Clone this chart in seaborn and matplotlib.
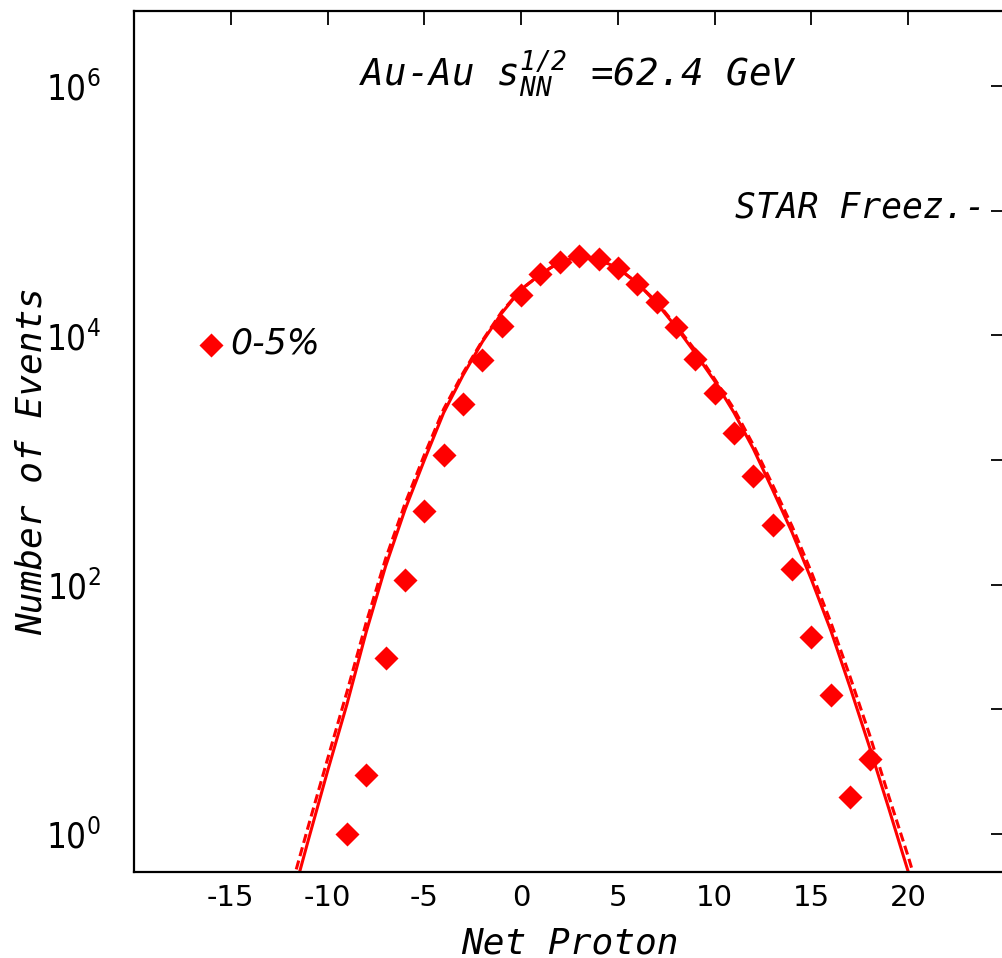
import matplotlib
matplotlib.use("Agg")
import matplotlib.pyplot as plt
import numpy as np
import pandas as pd
import seaborn as sns
from matplotlib.font_manager import FontProperties, fontManager
from matplotlib.ticker import FixedLocator, NullLocator

# ---------------- data ----------------
net_proton = [-9, -8, -7, -6, -5, -4, -3, -2, -1, 0, 1, 2, 3, 4, 5, 6, 7, 8,
              9, 10, 11, 12, 13, 14, 15, 16, 17, 18]
events = [1.0, 3.0, 26, 110, 390, 1100, 2800, 6300, 12000, 21000, 31000, 39000,
          43000, 41000, 35000, 26000, 18500, 11700, 6500, 3450, 1650, 740, 300,
          135, 38, 13, 2.0, 4.0]

model_x = [-12, -11, -10, -9, -8, -7, -6, -5, -4, -3, -2, -1, 0, 1, 2, 3, 4, 5,
           6, 7, 8, 9, 10, 11, 12, 13, 14, 15, 16, 17, 18, 19, 20, 21]
model_solid = [0.24, 0.89, 3.2, 11, 42, 141, 400, 1000, 2400, 4800, 8900, 15100,
               23400, 30900, 38900, 42700, 40700, 34700, 26300, 18200, 11700,
               7200, 4300, 2400, 1230, 575, 263, 110, 43, 15, 5.0, 1.6, 0.50, 0.15]
model_dashed = [0.32, 1.15, 4.0, 13.8, 50, 162, 447, 1100, 2570, 5000, 9100, 15500,
                23400, 30900, 38900, 42700, 40700, 34700, 26300, 18600, 12000,
                7600, 4470, 2570, 1320, 630, 295, 126, 50, 18.2, 6.3, 2.0, 0.66, 0.20]

x_ticks = [-15, -10, -5, 0, 5, 10, 15, 20]
x_tick_labels = ["-15", "-10", "-5", "0", "5", "10", "15", "20"]
y_ticks = [1e0, 1e1, 1e2, 1e3, 1e4, 1e5, 1e6]
y_tick_labels = [r"$\mathdefault{10^{0}}$", "", r"$\mathdefault{10^{2}}$", "",
                 r"$\mathdefault{10^{4}}$", "", r"$\mathdefault{10^{6}}$"]

series_label = "0-5%"
title_text = r"Au-Au s$_{\mathdefault{NN}}^{\mathdefault{1/2}}$ =62.4 GeV"
model_text = "STAR Freez.-"

# ---------------- style ----------------
sns.set_theme(style="white")
plt.rcParams["axes.unicode_minus"] = False
plt.rcParams["font.family"] = ["DejaVu Sans"]
plt.rcParams["text.color"] = "black"

names = {f.name for f in fontManager.ttflist}
if "Liberation Sans Narrow" in names:
    yfp = FontProperties(family="Liberation Sans Narrow", size=27)
elif any(f.name == "DejaVu Sans" and f.stretch == "condensed" for f in fontManager.ttflist):
    yfp = FontProperties(family="DejaVu Sans", stretch="condensed", size=25)
else:
    yfp = FontProperties(family="DejaVu Sans", size=24)

W, H = 1002, 958
fig = plt.figure(figsize=(W / 100, H / 100), dpi=100)
ax_left, ax_right, ax_top, ax_bot = 134, 1005, 11, 871.7
ax = fig.add_axes([ax_left / W, (H - ax_bot) / H, (ax_right - ax_left) / W,
                   (ax_bot - ax_top) / H])
axw = ax_right - ax_left
axh = ax_bot - ax_top

red = "#ff0000"
df_model = pd.DataFrame({"x": model_x, "solid": model_solid, "dashed": model_dashed})
df_pts = pd.DataFrame({"x": net_proton, "y": events})

sns.lineplot(data=df_model, x="x", y="solid", color=red, lw=2.2, ax=ax,
             estimator=None, legend=False, zorder=2)
sns.lineplot(data=df_model, x="x", y="dashed", color=red, lw=2.2, ax=ax,
             estimator=None, legend=False, dashes=(3, 1.5), zorder=2)
sns.scatterplot(data=df_pts, x="x", y="y", marker="D", s=150, color=red,
                linewidth=0, ax=ax, zorder=3, legend=False)
pts_handle = ax.collections[-1]

ax.set_yscale("log")
ax.set_xlim(-20, 25)
ax.set_ylim(0.5, 4e6)

ax.set_xticks(x_ticks)
ax.set_xticklabels(x_tick_labels, fontsize=21, fontfamily="DejaVu Sans")
ax.yaxis.set_major_locator(FixedLocator(y_ticks))
ax.yaxis.set_minor_locator(NullLocator())
ax.xaxis.set_minor_locator(NullLocator())
ax.set_yticklabels(y_tick_labels, fontproperties=yfp)

ax.tick_params(axis="both", which="major", direction="in", length=10, width=1.3,
               color="black", top=True, right=True, labelcolor="black")
ax.tick_params(axis="x", pad=9)
ax.tick_params(axis="y", pad=24)

for s in ax.spines.values():
    s.set_visible(True)
    s.set_linewidth(1.6)
    s.set_color("black")

mono = dict(fontfamily="DejaVu Sans Mono", fontstyle="oblique", color="black")
ax.set_xlabel("Net Proton", fontsize=26, **mono)
ax.xaxis.set_label_coords(0.5, -(953 - ax_bot) / axh)
ax.xaxis.label.set_va("baseline")
ax.set_ylabel("Number of Events", fontsize=26, **mono)
ax.yaxis.set_label_coords((32 - ax_left) / axw, (ax_bot - 461) / axh)
ax.yaxis.label.set_va("center")
ax.yaxis.label.set_ha("center")

ax.text((578 - ax_left) / axw, (ax_bot - 86) / axh, title_text, transform=ax.transAxes,
        ha="center", va="baseline", fontsize=27, **mono)
ax.text((735 - ax_left) / axw, (ax_bot - 217) / axh, model_text, transform=ax.transAxes,
        ha="left", va="baseline", fontsize=25, **mono)

ax.legend(handles=[pts_handle], labels=[series_label], loc="center left",
          bbox_to_anchor=(197 / W, 1 - 344 / H), bbox_transform=fig.transFigure,
          frameon=False, handlelength=0.8, handletextpad=0.15, borderpad=0,
          borderaxespad=0, scatterpoints=1, labelcolor="black",
          prop=FontProperties(family="DejaVu Sans", style="oblique", size=25))

fig.savefig("out.png", dpi=100, facecolor="white")
